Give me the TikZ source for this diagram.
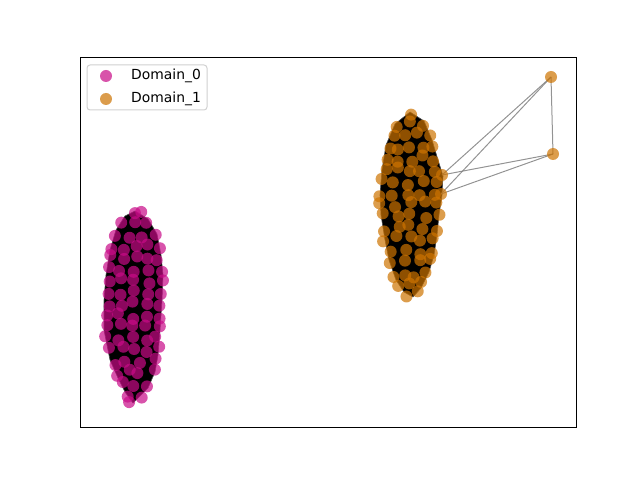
\documentclass[tikz,border=0pt]{standalone}
\usepackage{fontspec}
\setmainfont{DejaVu Sans}
\definecolor{dzero}{RGB}{200,10,135}
\definecolor{done}{RGB}{205,115,0}
\definecolor{edgegray}{RGB}{128,128,128}
\tikzset{
  pt/.style={circle,inner sep=0pt,minimum size=12bp,fill opacity=0.7},
  ptzero/.style={pt,fill=dzero},
  ptone/.style={pt,fill=done},
  hull/.style={fill=black,draw=black!70,line width=0.6bp,line join=round},
  gedge/.style={draw=edgegray,line width=1bp,opacity=0.85},
  axbox/.style={draw=black,line width=1bp},
  legbox/.style={draw=black!18,fill=white,rounded corners=3bp,line width=1bp},
  legtext/.style={anchor=west,inner sep=0pt,font=\fontsize{13.9bp}{16bp}\selectfont}
}
\newcommand{\clusterrows}[2]{%
  \foreach \yy/\ll/\rr in {#2}{%
    \pgfmathtruncatemacro{\nn}{max(1,round((\rr-\ll)/12.5)+1)}%
    \ifnum\nn=1
      \pgfmathsetmacro{\jx}{(\ll+\rr)/2+2*rand}%
      \pgfmathsetmacro{\jy}{\yy+2*rand}%
      \node[#1] at (\jx,\jy) {};
    \else
      \pgfmathtruncatemacro{\mm}{\nn-1}%
      \foreach \ii in {0,...,\mm}{%
        \pgfmathsetmacro{\jx}{\ll+\ii*(\rr-\ll)/\mm+3*rand}%
        \pgfmathsetmacro{\jy}{\yy+3.5*rand}%
        \node[#1] at (\jx,\jy) {};
      }%
    \fi
  }%
}
\begin{document}
\begin{tikzpicture}[x=1bp,y=-1bp]
\useasboundingbox (0,0) rectangle (640,480);
\pgfmathsetseed{11}
% hulls (dense edge meshes)
\fill[hull] (135,211) -- (148,219) -- (157,234) -- (161,255) -- (163,275) -- (162,300) -- (160,330) -- (158,355) -- (155,372) -- (148,388) -- (133,403) -- (125,392) -- (118,378) -- (110,360) -- (104,330) -- (104,300) -- (106,275) -- (110,250) -- (116,230) -- (125,216) -- cycle;
\fill[hull] (410,112) -- (424,121) -- (432,140) -- (438,160) -- (443,176) -- (442,195) -- (439,215) -- (437,235) -- (434,255) -- (429,272) -- (421,288) -- (413,297) -- (404,292) -- (396,280) -- (389,260) -- (385,240) -- (381,215) -- (380,195) -- (382,170) -- (386,145) -- (395,124) -- cycle;
% outlier edges
\coordinate (p1) at (551,77);
\coordinate (p2) at (553,154);
\coordinate (q1) at (442,175);
\coordinate (q2) at (441,194);
\draw[gedge] (p1) -- (p2);
\draw[gedge] (p1) -- (q1);
\draw[gedge] (p1) -- (q2);
\draw[gedge] (p2) -- (q1);
\draw[gedge] (p2) -- (q2);
% clusters
\clusterrows{ptzero}{213/133/140, 224/121/148, 235/116/153, 247/112/157, 258/110/159, 270/108/161, 281/107/161, 293/106/160, 304/107/160, 316/107/159, 327/105/158, 339/107/158, 350/109/157, 362/113/156, 373/117/152, 385/122/147, 396/127/142, 403/130/131}
\clusterrows{ptone}{113/408/413, 124/399/424, 136/392/429, 147/388/432, 159/386/435, 170/384/434, 182/383/434, 193/381/432, 205/382/437, 216/383/438, 228/385/436, 239/386/434, 251/389/432, 262/392/430, 274/394/427, 285/398/422, 294/405/418}
\node[ptone] (o1) at (p1) {};
\node[ptone] (o2) at (p2) {};
\node[ptone] (c1) at (q1) {};
\node[ptone] (c2) at (q2) {};
% axes
\draw[axbox] (80,58) rectangle (576,427);
% legend
\draw[legbox] (87,65) rectangle (207,110);
\node[ptzero] (l0) at (106,76) {};
\node[ptone] (l1) at (106,99) {};
\node[legtext] (t0) at (131,76) {Domain\_0};
\node[legtext] (t1) at (131,99) {Domain\_1};
\end{tikzpicture}
\end{document}
